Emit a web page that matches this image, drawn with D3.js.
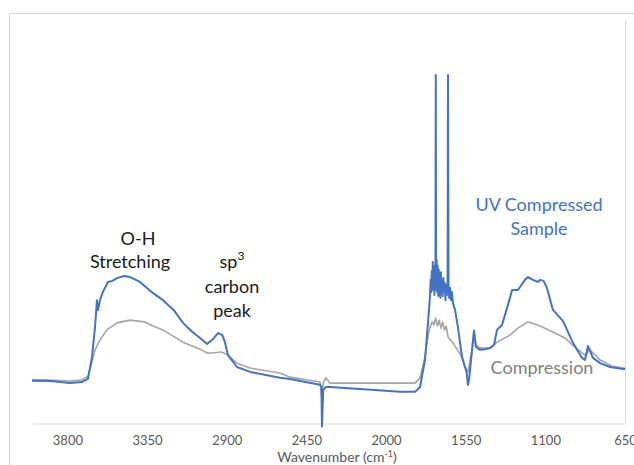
<!DOCTYPE html>
<html><head><meta charset="utf-8">
<script src="https://cdn.jsdelivr.net/npm/d3@7"></script>
<style>body{margin:0;background:#fff;}svg{display:block;font-family:Lato,"Open Sans",sans-serif;}</style>
</head><body>
<svg id="c" width="634" height="465"></svg>
<script>
const tickLabels = [3800, 3350, 2900, 2450, 2000, 1550, 1100, 650];
const uvWave = [4000,3898,3785,3720,3684,3661,3644,3633,3627,3616,3600,3571,3545,3520,3480,3446,3390,3316,3260,3200,3147,3100,3051,3011,2983,2949,2925,2910,2893,2842,2768,2599,2543,2373,2365,2362,2355,2340,2317,2147,1921,1836,1808,1780,1763,1752,1748,1745,1742,1739,1736,1733,1730,1727,1724,1721,1719,1717,1714,1711,1708,1705,1702,1699,1696,1693,1690,1687,1684,1680,1676,1672,1668,1664,1660,1656,1652,1650,1647,1643,1638,1633,1628,1622,1610,1594,1571,1554,1545,1537,1530,1514,1503,1497,1492,1469,1440,1413,1390,1373,1345,1328,1300,1288,1255,1215,1198,1170,1140,1130,1110,1091,1057,1000,944,893,876,859,845,831,791,735,661,650];
const uvAbs = [0.121,0.120,0.114,0.117,0.126,0.189,0.274,0.351,0.323,0.351,0.374,0.403,0.406,0.414,0.420,0.417,0.403,0.371,0.351,0.323,0.286,0.263,0.243,0.226,0.237,0.257,0.251,0.231,0.194,0.160,0.146,0.129,0.126,0.109,0.103,-0.01,0.094,0.103,0.103,0.097,0.089,0.089,0.103,0.180,0.286,0.360,0.409,0.374,0.434,0.380,0.460,0.394,0.443,0.366,0.451,0.380,0.994,0.409,0.466,0.374,0.449,0.363,0.437,0.386,0.423,0.357,0.431,0.380,0.409,0.363,0.414,0.374,0.400,0.351,0.394,0.366,0.409,0.994,0.394,0.357,0.386,0.351,0.374,0.343,0.323,0.274,0.189,0.160,0.146,0.109,0.129,0.209,0.263,0.237,0.217,0.209,0.211,0.214,0.223,0.266,0.280,0.309,0.357,0.380,0.380,0.409,0.417,0.409,0.403,0.409,0.406,0.386,0.323,0.291,0.229,0.186,0.180,0.220,0.203,0.186,0.171,0.160,0.154,0.154];
const compWave = [4000,3898,3785,3720,3684,3661,3644,3616,3577,3520,3446,3367,3316,3260,3147,3051,3011,2983,2930,2893,2842,2768,2599,2543,2373,2362,2355,2340,2317,2147,1921,1836,1808,1780,1763,1752,1740,1730,1720,1710,1700,1690,1680,1670,1660,1650,1622,1571,1554,1537,1514,1503,1492,1469,1413,1373,1300,1255,1198,1130,1057,990,933,876,848,791,724,661,650];
const compAbs = [0.124,0.123,0.120,0.123,0.134,0.174,0.209,0.237,0.266,0.286,0.294,0.289,0.277,0.266,0.231,0.211,0.200,0.200,0.203,0.194,0.171,0.157,0.143,0.131,0.117,0.071,0.114,0.129,0.114,0.114,0.114,0.114,0.129,0.189,0.246,0.274,0.289,0.280,0.300,0.277,0.294,0.271,0.289,0.266,0.277,0.246,0.229,0.189,0.160,0.146,0.209,0.266,0.223,0.214,0.214,0.231,0.251,0.271,0.289,0.277,0.260,0.243,0.217,0.194,0.209,0.180,0.163,0.157,0.157];

const svg = d3.select("#c");
const x = d3.scaleLinear().domain([4000, 650]).range([32, 625]);
const y = d3.scaleLinear().domain([0, 1]).range([423, 73]);

svg.append("path").attr("d","M9.5,465V13.5H634").attr("fill","none").attr("stroke","#d4d4d4").attr("stroke-width",1);
svg.append("line").attr("x1",625.5).attr("x2",625.5).attr("y1",20).attr("y2",423).attr("stroke","#d9d9d9");

const xAxis = d3.axisBottom(x).tickValues(tickLabels).tickSize(0).tickPadding(12).tickFormat(d3.format("d"));
const gx = svg.append("g").attr("transform","translate(0,423.5)").call(xAxis);
gx.select(".domain").attr("stroke","#d9d9d9");
gx.selectAll("text").attr("fill","#595959").style("font-size","13px").style("font-family","Lato, sans-serif");

const line = d3.line().x(d => x(d[0])).y(d => y(d[1]));
svg.append("path").datum(d3.zip(compWave, compAbs)).attr("d", line)
  .attr("fill","none").attr("stroke","#a5a5a5").attr("stroke-width",1.6).attr("stroke-linejoin","round");
svg.append("path").datum(d3.zip(uvWave, uvAbs)).attr("d", line)
  .attr("fill","none").attr("stroke","#4472c4").attr("stroke-width",2).attr("stroke-linejoin","round");

const t = svg.append("text").attr("x",337).attr("y",462).attr("text-anchor","middle").attr("fill","#595959").style("font-size","14px");
t.append("tspan").text("Wavenumber (cm");
t.append("tspan").attr("dy",-5).style("font-size","9px").text("-1");
t.append("tspan").attr("dy",5).text(")");

const ann = (txt, xx, yy, col, fs) => svg.append("text").attr("x",xx).attr("y",yy).attr("text-anchor","middle").attr("fill",col).style("font-size",fs+"px").text(txt);
ann("O-H", 138, 245, "#1a1a1a", 18);
ann("Stretching", 130, 268, "#1a1a1a", 18);
const sp = svg.append("text").attr("x",232).attr("y",268).attr("text-anchor","middle").attr("fill","#1a1a1a").style("font-size","18px");
sp.append("tspan").text("sp");
sp.append("tspan").attr("dy",-8).style("font-size","12px").text("3");
ann("carbon", 232, 293, "#1a1a1a", 18);
ann("peak", 232, 317, "#1a1a1a", 18);
ann("UV Compressed", 539, 211, "#4472c4", 18);
ann("Sample", 539, 235, "#4472c4", 18);
ann("Compression", 542, 374, "#7f7f7f", 18);
</script>
</body></html>
